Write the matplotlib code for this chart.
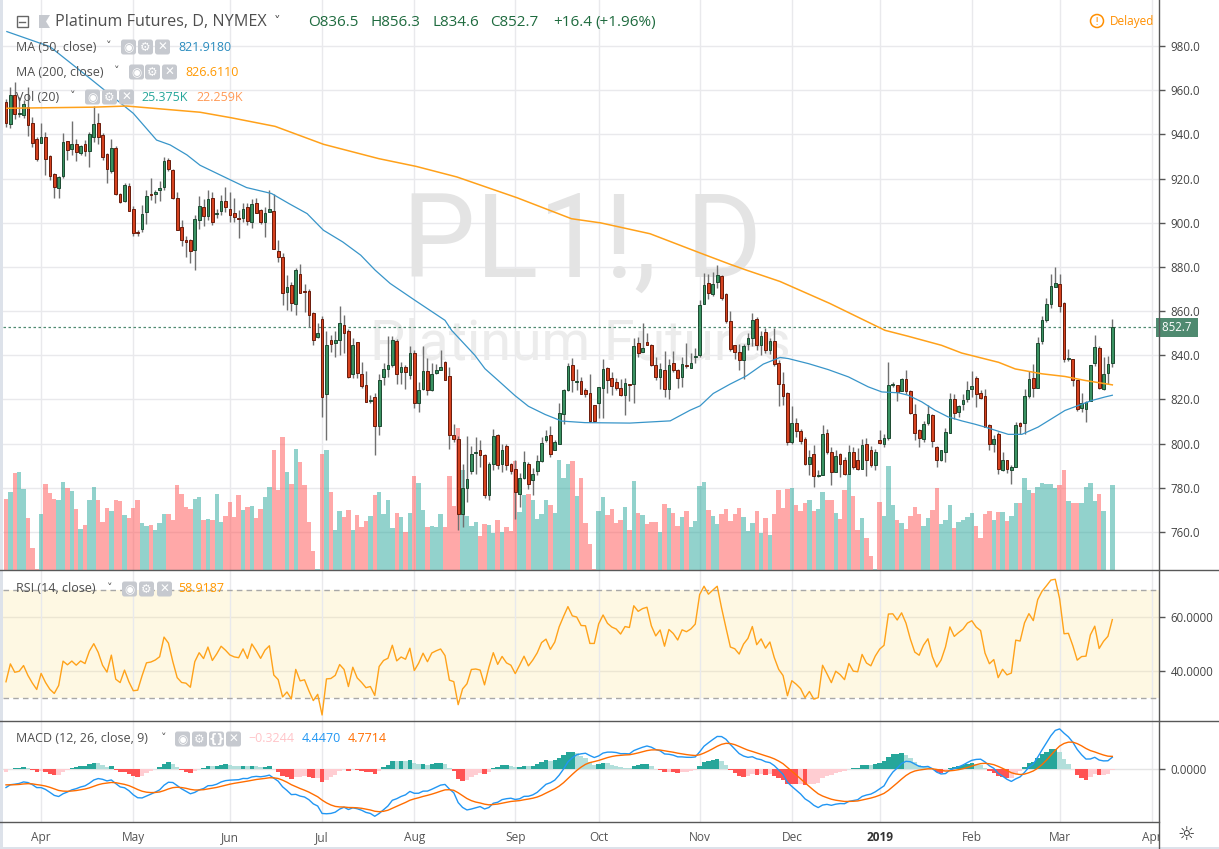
import numpy as np
import matplotlib
matplotlib.use('Agg')
import matplotlib.pyplot as plt
from matplotlib.patches import FancyBboxPatch, Rectangle, Polygon, Circle
import matplotlib.transforms as mtransforms

plt.rcParams['font.family'] = ['Open Sans', 'DejaVu Sans']

# ---------------- data ----------------
opens = [954.7, 944.5, 958.0, 949.3, 948.7, 952.5, 945.0, 938.0, 936.2, 938.6,
         930.0, 922.0, 915.5, 921.0, 937.0, 933.2, 935.5, 931.4, 935.6, 932.6,
         939.0, 945.0, 939.7, 931.0, 923.3, 934.0, 913.0, 910.0, 916.7, 906.0,
         895.9, 897.0, 905.0, 912.9, 913.2, 914.6, 916.0, 928.3, 924.0, 911.0,
         898.0, 892.3, 892.3, 887.5, 901.4, 906.9, 903.1, 911.4, 904.0, 905.4,
         909.6, 906.4, 904.6, 902.1, 901.9, 906.9, 900.4, 908.7, 905.7, 900.1,
         904.9, 905.2, 887.1, 884.3, 868.7, 871.7, 863.4, 876.7, 869.0, 868.9,
         858.9, 848.2, 856.6, 822.3, 846.8, 845.6, 846.8, 853.9, 850.9, 831.3,
         845.8, 831.3, 826.5, 819.3, 820.9, 808.0, 830.0, 834.0, 835.4, 846.3,
         832.2, 834.6, 831.0, 841.0, 818.5, 824.6, 833.0, 824.1, 832.1, 833.5,
         837.0, 830.4, 804.0, 802.2, 768.3, 780.0, 787.6, 795.6, 797.0, 794.7,
         776.9, 790.6, 803.8, 790.6, 798.8, 790.6, 788.7, 777.3, 784.6, 791.0,
         783.4, 787.5, 792.1, 801.5, 803.8, 797.3, 800.0, 813.6, 824.4, 835.7,
         827.8, 828.2, 824.2, 822.8, 817.6, 818.6, 825.0, 834.1, 829.8, 827.8,
         825.2, 822.1, 827.0, 826.9, 845.5, 841.5, 846.0, 844.6, 835.5, 830.0,
         833.4, 824.6, 836.4, 833.4, 830.0, 835.5, 834.4, 839.0, 840.3, 863.1,
         872.9, 867.6, 873.0, 875.9, 867.9, 855.3, 844.6, 841.5, 837.8, 845.0,
         848.0, 856.3, 844.6, 850.6, 842.6, 846.5, 836.4, 827.2, 822.7, 800.8,
         809.5, 805.6, 802.3, 790.7, 795.2, 785.5, 786.0, 804.6, 796.3, 787.2,
         795.2, 792.5, 786.2, 796.0, 792.5, 788.7, 800.0, 797.0, 790.2, 801.5,
         800.0, 802.7, 826.4, 826.7, 823.7, 829.4, 823.7, 813.6, 806.1, 802.0,
         809.4, 812.9, 798.5, 792.8, 796.3, 804.9, 820.4, 814.4, 817.8, 820.4,
         824.5, 829.8, 822.9, 821.4, 808.3, 800.0, 804.5, 788.0, 792.8, 788.0,
         789.5, 809.5, 809.5, 821.5, 829.8, 825.3, 846.3, 856.0, 863.2, 870.7,
         872.2, 863.6, 838.3, 838.3, 828.6, 816.1, 815.8, 819.2, 836.4, 843.3,
         824.8, 832.0, 836.5]

closes = [945.3, 957.7, 949.0, 949.7, 953.5, 944.0, 936.0, 928.7, 938.6, 929.0,
          921.0, 916.0, 920.6, 936.4, 933.0, 935.5, 932.0, 934.6, 932.6, 940.0,
          944.7, 939.0, 929.6, 924.2, 934.0, 913.0, 909.5, 917.0, 905.4, 895.3,
          895.6, 903.9, 912.0, 912.5, 913.7, 915.6, 928.0, 924.2, 911.0, 896.8,
          892.0, 891.3, 887.4, 901.7, 907.5, 903.1, 910.5, 900.4, 904.6, 909.6,
          906.9, 903.7, 902.4, 901.9, 906.4, 900.8, 908.4, 904.6, 900.1, 904.2,
          906.4, 887.9, 884.3, 868.4, 870.7, 863.7, 878.8, 868.3, 868.9, 858.0,
          846.8, 850.0, 820.9, 844.6, 844.9, 847.1, 854.8, 849.9, 830.3, 844.6,
          831.8, 826.0, 819.0, 819.8, 808.0, 829.0, 834.0, 835.8, 846.7, 831.4,
          834.6, 832.4, 841.1, 818.5, 824.4, 832.7, 824.1, 831.3, 833.1, 834.5,
          829.0, 804.0, 802.2, 768.3, 780.0, 784.0, 795.5, 795.9, 794.7, 776.9,
          790.6, 803.3, 790.2, 797.3, 790.2, 787.6, 778.1, 784.6, 791.7, 781.9,
          786.4, 792.0, 800.4, 803.3, 795.1, 800.8, 814.0, 824.4, 835.3, 829.0,
          828.2, 822.6, 822.4, 810.3, 810.3, 825.7, 834.0, 828.7, 826.3, 825.1,
          822.1, 827.4, 826.9, 844.1, 841.2, 843.5, 844.6, 835.5, 830.0, 833.8,
          824.6, 835.5, 833.2, 829.5, 836.0, 835.0, 836.7, 839.6, 862.7, 871.7,
          868.0, 872.2, 876.2, 866.1, 855.3, 842.7, 841.5, 837.8, 844.0, 847.7,
          855.9, 844.7, 848.6, 842.6, 846.5, 836.0, 826.9, 821.6, 800.8, 809.5,
          805.8, 801.1, 790.7, 794.0, 785.2, 785.9, 804.3, 796.3, 787.2, 794.3,
          791.0, 786.2, 796.0, 789.2, 788.7, 799.3, 792.5, 790.2, 796.0, 800.3,
          802.7, 826.7, 826.9, 823.4, 829.4, 823.7, 813.9, 804.9, 802.6, 809.0,
          813.2, 801.1, 792.8, 797.0, 805.3, 820.4, 814.0, 817.0, 819.6, 824.2,
          826.0, 822.6, 820.8, 807.5, 800.0, 802.3, 788.3, 792.8, 788.3, 789.2,
          808.6, 808.0, 821.4, 829.3, 825.3, 845.6, 856.0, 863.2, 871.4, 872.6,
          862.1, 838.3, 838.7, 828.9, 815.8, 818.5, 818.8, 835.6, 843.6, 825.3,
          831.6, 836.1, 852.7]

highs = [956.2, 961.2, 963.8, 957.0, 955.5, 961.5, 948.0, 939.0, 945.0, 941.0,
         930.7, 922.4, 921.0, 940.8, 937.0, 946.0, 937.7, 935.2, 937.4, 941.2,
         952.8, 949.5, 940.5, 931.4, 937.7, 934.7, 913.4, 917.9, 917.9, 907.4,
         896.8, 908.1, 914.9, 920.2, 914.9, 919.0, 929.6, 929.2, 924.2, 914.1,
         901.3, 893.8, 892.6, 903.6, 912.3, 910.5, 915.0, 914.0, 906.4, 912.5,
         916.2, 914.0, 911.0, 905.7, 909.0, 909.0, 910.5, 911.0, 906.4, 907.2,
         915.0, 913.2, 892.1, 886.4, 876.3, 873.2, 879.3, 881.5, 872.2, 870.2,
         859.7, 854.7, 857.7, 850.9, 849.3, 850.8, 862.4, 858.0, 852.1, 847.9,
         845.8, 837.0, 832.8, 822.0, 822.9, 831.3, 836.3, 848.7, 848.5, 847.5,
         836.9, 835.5, 844.0, 842.2, 827.9, 844.0, 838.9, 836.5, 835.9, 842.5,
         837.5, 834.7, 809.0, 803.3, 790.9, 803.3, 798.8, 803.0, 801.8, 795.1,
         791.7, 806.8, 804.5, 799.7, 799.7, 791.3, 792.4, 786.7, 796.5, 791.7,
         789.0, 794.7, 803.0, 806.0, 807.8, 801.5, 818.4, 824.9, 836.5, 838.9,
         833.9, 830.1, 825.4, 831.7, 817.6, 825.7, 838.2, 834.8, 832.6, 829.6,
         829.2, 829.6, 827.2, 847.7, 848.3, 854.4, 850.3, 845.0, 839.3, 836.3,
         842.0, 838.2, 842.0, 834.0, 839.3, 845.6, 841.2, 843.2, 864.9, 877.4,
         877.0, 877.9, 880.9, 876.4, 868.4, 860.1, 844.6, 845.3, 845.3, 850.3,
         858.9, 857.1, 851.1, 852.2, 848.0, 852.2, 837.8, 832.5, 823.4, 816.9,
         811.8, 806.8, 803.0, 797.0, 799.3, 788.0, 808.3, 806.8, 798.5, 797.3,
         795.8, 794.0, 799.6, 798.5, 798.2, 802.3, 802.7, 798.8, 797.5, 806.0,
         804.3, 837.0, 828.0, 826.7, 829.9, 833.2, 824.2, 818.1, 806.4, 810.3,
         817.4, 813.6, 798.8, 797.3, 807.1, 823.0, 822.4, 817.4, 822.4, 828.4,
         833.0, 830.8, 824.1, 824.8, 808.7, 803.8, 805.3, 796.2, 792.8, 790.2,
         809.8, 809.8, 824.8, 832.8, 836.1, 848.1, 857.9, 865.9, 877.0, 880.0,
         877.0, 863.9, 842.9, 838.3, 828.6, 822.9, 819.2, 835.6, 849.3, 844.4,
         839.1, 839.8, 856.3]

lows = [943.5, 943.0, 947.0, 947.7, 947.2, 939.4, 934.4, 928.0, 936.0, 921.6,
        919.4, 911.1, 911.1, 920.2, 928.4, 930.7, 928.1, 930.7, 930.2, 925.4,
        936.7, 935.6, 928.4, 917.9, 922.4, 912.6, 908.9, 909.5, 905.4, 893.8,
        893.8, 895.6, 899.5, 910.4, 908.9, 909.6, 914.9, 923.2, 910.8, 896.5,
        889.3, 884.5, 881.8, 878.8, 897.0, 898.4, 901.4, 898.9, 901.9, 903.4,
        904.9, 900.4, 900.4, 893.3, 900.4, 898.9, 897.4, 904.2, 899.6, 893.6,
        904.9, 887.9, 882.3, 862.7, 860.4, 860.1, 858.2, 868.0, 859.7, 852.9,
        844.6, 847.6, 811.9, 801.6, 841.6, 839.3, 840.0, 840.8, 829.5, 829.5,
        829.5, 825.0, 819.0, 818.5, 794.8, 803.9, 826.5, 830.2, 834.7, 827.1,
        827.1, 824.9, 829.4, 816.3, 814.3, 824.1, 821.8, 823.8, 831.3, 833.2,
        828.6, 797.7, 800.7, 760.8, 762.3, 773.6, 786.4, 786.4, 789.4, 775.4,
        774.3, 787.9, 788.7, 787.1, 787.9, 786.4, 766.0, 771.3, 784.1, 779.6,
        776.6, 786.0, 791.7, 800.7, 794.0, 797.0, 800.0, 809.0, 823.8, 823.3,
        824.1, 822.3, 820.9, 810.0, 810.0, 811.8, 811.8, 823.1, 822.1, 824.2,
        821.6, 813.0, 819.4, 818.6, 839.3, 841.5, 844.6, 835.2, 828.7, 824.6,
        820.9, 820.1, 832.2, 825.4, 825.7, 834.4, 834.4, 836.3, 839.0, 863.1,
        865.4, 866.9, 870.6, 864.9, 854.8, 842.0, 838.2, 833.2, 829.2, 842.3,
        844.3, 842.6, 840.2, 841.2, 840.5, 835.2, 817.1, 817.4, 799.3, 800.0,
        803.0, 800.0, 790.2, 785.7, 780.4, 785.0, 786.0, 795.5, 781.2, 787.2,
        785.0, 785.7, 786.2, 788.3, 788.0, 788.3, 785.2, 789.5, 788.0, 800.0,
        798.5, 801.8, 825.7, 819.3, 823.7, 822.6, 813.6, 801.8, 798.5, 800.8,
        808.3, 798.5, 789.2, 792.2, 791.7, 804.6, 811.3, 812.1, 815.1, 819.0,
        821.0, 816.5, 820.3, 807.5, 797.0, 796.2, 786.2, 787.7, 786.8, 781.5,
        789.5, 804.2, 804.5, 820.8, 821.1, 825.3, 845.1, 854.9, 861.4, 870.7,
        859.4, 836.8, 837.6, 826.3, 814.6, 814.3, 809.8, 819.2, 835.3, 824.8,
        824.4, 827.1, 834.6]

volumes_k = [21.2, 23.3, 29.0, 29.3, 24.2, 15.5, 6.5, 0.3, 16.7, 25.7,
             23.0, 21.2, 20.9, 26.3, 24.5, 23.6, 18.2, 12.2, 13.4, 20.9,
             24.8, 20.9, 14.3, 18.5, 17.6, 20.9, 20.6, 16.4, 15.5, 18.5,
             20.9, 14.0, 13.1, 13.4, 11.9, 14.0, 16.7, 16.7, 14.9, 25.4,
             22.7, 18.8, 18.2, 21.2, 21.8, 14.9, 15.2, 14.9, 22.7, 14.3,
             16.1, 20.3, 15.8, 22.4, 17.9, 18.8, 19.1, 15.5, 18.2, 21.8,
             24.8, 35.9, 23.9, 39.8, 29.3, 25.7, 36.2, 32.3, 25.4, 14.3,
             5.6, 0.3, 34.7, 35.9, 23.3, 11.9, 17.6, 15.8, 17.9, 11.9,
             16.4, 12.8, 14.6, 16.1, 22.4, 23.3, 16.7, 20.9, 12.5, 17.0,
             15.8, 11.3, 17.0, 28.1, 26.0, 17.9, 12.8, 13.1, 12.8, 16.7,
             12.8, 28.1, 19.1, 42.5, 29.9, 16.1, 13.1, 14.3, 10.1, 13.7,
             13.4, 11.0, 14.9, 11.3, 12.8, 11.6, 32.6, 17.3, 22.4, 22.7,
             20.9, 15.2, 16.7, 20.9, 19.4, 17.0, 32.9, 27.5, 31.7, 32.6,
             22.1, 27.5, 14.0, 7.7, 0.3, 17.6, 21.8, 16.4, 18.2, 14.0,
             14.9, 18.8, 11.9, 26.6, 17.0, 16.4, 13.7, 14.3, 14.3, 11.3,
             19.7, 18.5, 17.0, 13.1, 15.8, 17.6, 12.8, 14.6, 25.1, 26.3,
             17.9, 16.1, 13.7, 16.7, 18.2, 14.6, 16.7, 18.5, 15.8, 11.6,
             14.0, 17.6, 11.0, 15.5, 10.4, 16.7, 23.9, 18.5, 24.2, 24.5,
             19.4, 17.6, 20.0, 20.9, 17.6, 18.2, 23.3, 20.9, 20.9, 17.0,
             15.2, 23.9, 28.7, 22.1, 11.9, 15.5, 9.5, 4.1, 0.3, 20.3,
             16.1, 31.1, 19.4, 14.9, 14.0, 12.2, 16.1, 18.8, 16.7, 13.1,
             15.5, 17.9, 24.5, 13.7, 14.9, 19.4, 12.5, 14.3, 14.9, 15.8,
             17.0, 13.1, 9.5, 16.7, 17.6, 14.9, 17.3, 17.3, 14.6, 16.1,
             20.0, 20.0, 27.5, 23.9, 23.0, 24.8, 26.0, 25.7, 25.7, 24.5,
             25.4, 29.9, 20.6, 20.0, 20.0, 20.0, 24.8, 26.0, 20.6, 22.7,
             17.6, 0.0, 25.4]

# moving averages (bar index, value)
ma50_idx = [0.2, 10.0, 18.7, 29.0, 34.3, 37.4, 41.2, 44.2, 51.3, 54.8, 60.5, 64.5,
            68.6, 72.3, 76.7, 80.8, 84.1, 87.5, 93.2, 100.0, 101.5, 106.8, 109.1,
            112.1, 115.9, 119.0, 122.8, 126.6, 131.9, 142.1, 151.3, 155.8, 158.1,
            161.1, 164.9, 168.7, 172.5, 176.3, 178.2, 182.8, 187.3, 191.9, 196.4,
            199.5, 203.3, 205.5, 208.6, 211.6, 214.6, 217.7, 220.7, 223.0, 228.3,
            231.4, 235.1, 238.2, 241.2, 244.3, 247.3, 250.3, 252.0]
ma50_val = [986.5, 979.7, 966.0, 949.5, 937.4, 935.2, 930.7, 926.0, 919.2, 915.9,
            913.2, 908.6, 904.1, 896.6, 891.3, 885.3, 878.5, 872.5, 864.8, 855.8,
            851.3, 840.0, 833.9, 828.6, 821.8, 816.9, 813.2, 810.2, 809.5, 809.3,
            810.3, 815.1, 817.1, 822.7, 826.9, 830.7, 836.0, 839.0, 838.5, 836.2,
            833.5, 830.2, 825.7, 823.4, 823.0, 821.9, 818.9, 815.1, 812.1, 810.3,
            808.8, 807.5, 804.2, 804.2, 807.5, 811.3, 815.0, 817.3, 819.5, 821.1,
            821.9]
ma200_idx = [0.2, 20.0, 27.5, 44.2, 51.3, 61.3, 72.3, 84.9, 93.4, 102.7, 116.4,
             128.8, 135.5, 146.7, 158.1, 164.9, 168.7, 176.3, 187.6, 200.2, 205.5,
             213.1, 217.7, 220.7, 226.1, 229.9, 236.0, 241.2, 245.8, 252.0]
ma200_val = [951.8, 952.3, 952.8, 950.0, 947.5, 943.6, 935.5, 929.0, 925.5, 920.7,
             911.3, 901.8, 899.9, 895.0, 886.3, 881.2, 878.5, 873.4, 863.5, 851.3,
             848.6, 844.5, 841.0, 839.5, 836.8, 833.8, 831.6, 830.4, 828.6, 826.6]

# indicator state just before the visible window (estimated from the panes)
rsi_seed = (3.0, 5.3)             # avg gain, avg loss
macd_seed = (951.0, 958.0, -6.0)  # ema12, ema26, signal

month_pos = [8, 29, 51, 72, 93, 116, 135, 158, 179, 199, 220, 240, 261]
month_lbl = ['Apr', 'May', 'Jun', 'Jul', 'Aug', 'Sep', 'Oct', 'Nov', 'Dec',
             '2019', 'Feb', 'Mar', 'Apr']
price_ticks = [760, 780, 800, 820, 840, 860, 880, 900, 920, 940, 960, 980]

# ---------------- indicators ----------------
o = np.array(opens); c = np.array(closes)
h = np.array(highs); l = np.array(lows)
v = np.array(volumes_k)
n = len(c)
x = np.arange(n)

ag, al = rsi_seed
rsi = np.empty(n)
rsi[0] = 100 - 100 / (1 + ag / al)
for i in range(1, n):
    d = c[i] - c[i - 1]
    ag = (ag * 13 + max(d, 0)) / 14
    al = (al * 13 + max(-d, 0)) / 14
    rsi[i] = 100 - 100 / (1 + ag / al)

e12, e26, sg = macd_seed
macd = np.empty(n); sig = np.empty(n)
macd[0] = e12 - e26; sig[0] = sg
for i in range(1, n):
    e12 += (c[i] - e12) * 2 / 13
    e26 += (c[i] - e26) * 2 / 27
    m = e12 - e26
    sg += (m - sg) * 2 / 10
    macd[i] = m; sig[i] = sg
hist = macd - sig

hcol = []
for i in range(n):
    prev = hist[i - 1] if i > 0 else hist[i]
    if hist[i] >= 0:
        hcol.append('#26a69a' if hist[i] > prev else '#b2dfdb')
    else:
        hcol.append('#ff5252' if hist[i] < prev else '#ffcdd2')

# ---------------- figure ----------------
W, H = 1219, 849
fig = plt.figure(figsize=(W / 100, H / 100), dpi=100, facecolor='white')

def rect(x0, y0, x1, y1):
    return [x0 / W, 1 - y1 / H, (x1 - x0) / W, (y1 - y0) / H]

XL = (-0.68, 262.7)
PX0, PX1 = 3, 1159.3
main_r = rect(PX0, 0, PX1, 570)
rsi_r = rect(PX0, 570, PX1, 721)
macd_r = rect(PX0, 721, PX1, 821.7)
GRID = '#e9e9ec'

def clean(ax):
    for s in ax.spines.values():
        s.set_visible(False)
    ax.set_xlim(*XL)

# grid / watermark layer
ax_g = fig.add_axes(main_r)
clean(ax_g)
ax_g.set_ylim(742.8, 1000.8)
ax_g.set_xticks([]); ax_g.set_yticks([])
for p in price_ticks:
    ax_g.axhline(p, color=GRID, lw=1, zorder=0)
for mp in month_pos:
    ax_g.axvline(mp, color=GRID, lw=1, zorder=0)
ax_g.text((582 - PX0) / (PX1 - PX0), 1 - 245 / 570, 'PL1!, D', transform=ax_g.transAxes,
          ha='center', va='center', fontsize=84, color='#e4e4e4',
          family=['Roboto', 'DejaVu Sans'])
ax_g.text((580 - PX0) / (PX1 - PX0), 1 - 344 / 570, 'Platinum Futures', transform=ax_g.transAxes,
          ha='center', va='center', fontsize=40, color='#ececec',
          family=['Roboto', 'DejaVu Sans'])

# volume layer
ax_v = fig.add_axes(main_r)
clean(ax_v)
ax_v.patch.set_visible(False)
ax_v.set_ylim(0, 170.8)
ax_v.set_xticks([]); ax_v.set_yticks([])
up = c >= o
vcol = np.where(up, '#26a69a', '#ff5252')
ax_v.bar(x, v, width=1.0, color=vcol, alpha=0.5, linewidth=0)

# price layer
ax_p = fig.add_axes(main_r)
clean(ax_p)
ax_p.patch.set_visible(False)
ax_p.set_ylim(742.8, 1000.8)
ax_p.set_xticks([])
ax_p.vlines(x, np.minimum(l, np.minimum(o, c)), np.maximum(h, np.maximum(o, c)),
            color='#707070', lw=1, zorder=2)
body = c - o
body = np.where(np.abs(body) < 0.5, np.where(body >= 0, 0.5, -0.5), body)
ax_p.bar(x[up], body[up], bottom=o[up], width=0.62, color='#3a9262',
         edgecolor='#1d4a31', linewidth=0.7, zorder=3)
ax_p.bar(x[~up], body[~up], bottom=o[~up], width=0.62, color='#d5421f',
         edgecolor='#6a1b0b', linewidth=0.7, zorder=3)
ax_p.plot(ma50_idx, ma50_val, color='#3895c9', lw=0.9, zorder=4)
ax_p.plot(ma200_idx, ma200_val, color='#ffa11a', lw=1.1, zorder=4)
ax_p.axhline(c[-1], color='#4f8a70', lw=0.9, ls=(0, (2, 2)), zorder=1)
ax_p.yaxis.tick_right()
ax_p.set_yticks(price_ticks)
ax_p.set_yticklabels(['%.1f' % p for p in price_ticks])
ax_p.tick_params(axis='y', length=4, width=1, color='#555555', labelsize=8.3,
                 labelcolor='#444444', pad=4)
ax_p.text(1.0, c[-1], ' %.1f ' % c[-1],
          transform=mtransforms.blended_transform_factory(ax_p.transAxes, ax_p.transData),
          ha='left', va='center', fontsize=8.3, color='white',
          bbox=dict(boxstyle='square,pad=0.25', fc='#4f8a70', ec='none'), zorder=6)

# RSI pane
ax_r = fig.add_axes(rsi_r)
clean(ax_r)
ax_r.set_ylim(21.7, 77.3)
ax_r.axhspan(30, 70, color='#fef8e3', lw=0, zorder=0)
for gy in (40, 60):
    ax_r.axhline(gy, color='#ece6d3', lw=1, zorder=1)
for mp in month_pos:
    ax_r.axvline(mp, color=GRID, lw=1, zorder=1)
for gy in (30, 70):
    ax_r.axhline(gy, color='#a8a8a8', lw=1, ls=(0, (4, 3)), zorder=2)
ax_r.plot(x, rsi, color='#ffa21a', lw=1, zorder=3)
ax_r.set_xticks([])
ax_r.yaxis.tick_right()
ax_r.set_yticks([40, 60])
ax_r.set_yticklabels(['40.0000', '60.0000'])
ax_r.tick_params(axis='y', length=4, width=1, color='#555555', labelsize=8.3,
                 labelcolor='#444444', pad=4)

# MACD pane
ax_m = fig.add_axes(macd_r)
clean(ax_m)
ax_m.set_ylim(-19.9, 18.1)
for mp in month_pos:
    ax_m.axvline(mp, color=GRID, lw=1, zorder=0)
ax_m.axhline(0, color='#e4e4e4', lw=1, zorder=0)
ax_m.bar(x, hist, width=1.0, color=hcol, linewidth=0, zorder=1)
ax_m.plot(x, macd, color='#2196f3', lw=1, zorder=2)
ax_m.plot(x, sig, color='#ff6d00', lw=1, zorder=2)
ax_m.yaxis.tick_right()
ax_m.set_yticks([0])
ax_m.set_yticklabels(['0.0000'])
ax_m.tick_params(axis='y', length=4, width=1, color='#555555', labelsize=8.3,
                 labelcolor='#444444', pad=4)
ax_m.set_xticks(month_pos)
ax_m.set_xticklabels(month_lbl)
ax_m.tick_params(axis='x', length=0, pad=7, labelsize=8.6, labelcolor='#555555')
clipbox = mtransforms.Bbox([[0, 0], [PX1, H]])
for t in ax_m.get_xticklabels():
    t.set_clip_box(clipbox)
    t.set_clip_on(True)
    if t.get_text() == '2019':
        t.set_fontweight('bold')
        t.set_color('#333333')

# overlay (pixel coordinates)
ax_o = fig.add_axes([0, 0, 1, 1])
ax_o.set_xlim(0, W); ax_o.set_ylim(H, 0)
ax_o.axis('off')
ax_o.patch.set_visible(False)

SEP = '#585858'
ax_o.plot([0, W], [570, 570], color=SEP, lw=1)
ax_o.plot([0, W], [721, 721], color=SEP, lw=1)
ax_o.plot([0, PX1], [821.7, 821.7], color=SEP, lw=1)
ax_o.plot([PX1, PX1], [0, 849], color=SEP, lw=1)
ax_o.add_patch(Rectangle((0, 0), 3, H, color='#dde2ea', lw=0))
ax_o.add_patch(Rectangle((0, 846.5), W, 3, color='#dde2ea', lw=0))

def icon(x0, yc, glyph, size=15):
    ax_o.add_patch(FancyBboxPatch((x0 + 1.5, yc - size / 2 + 1.5), size - 3, size - 3,
                                  boxstyle='round,pad=1.5,rounding_size=2.5',
                                  fc='#c6c9cf', ec='none'))
    ax_o.text(x0 + size / 2, yc + 0.5, glyph, ha='center', va='center', color='white',
              fontsize=8.5, family='DejaVu Sans', fontweight='bold')

TXT = '#4f4f4f'
# header
ax_o.add_patch(Rectangle((16.5, 16), 11, 11, fill=False, ec='#666666', lw=1))
ax_o.plot([19, 25], [21.5, 21.5], color='#666666', lw=1)
ax_o.add_patch(Polygon([(39, 15), (50, 15), (46, 21.5), (50, 28), (39, 28)],
                       closed=True, fc='#c6c9cf', ec='none'))
ax_o.text(55, 22, 'Platinum Futures, D, NYMEX', va='center', ha='left',
          fontsize=11.65, color=TXT)
ax_o.text(274, 21, '˅', va='center', ha='left', fontsize=9.5, color=TXT,
          family='DejaVu Sans')
GREEN = '#1f6b3f'
for xx, s in [(308, 'O836.5'), (370, 'H856.3'), (433, 'L834.6'), (490, 'C852.7'),
              (553, '+16.4'), (595, '(+1.96%)')]:
    ax_o.text(xx, 22, s, va='center', ha='left', fontsize=11.0, color=GREEN)

def legend_row(y, label, chev_x, icons_x, glyphs, vals):
    ax_o.text(16, y, label, va='center', ha='left', fontsize=9, color=TXT)
    ax_o.text(chev_x, y - 1, '˅', va='center', ha='left', fontsize=8,
              color=TXT, family='DejaVu Sans')
    for ix, g in zip(icons_x, glyphs):
        icon(ix, y, g)
    for vx, s, col in vals:
        ax_o.text(vx, y, s, va='center', ha='left', fontsize=9, color=col)

legend_row(47, 'MA (50, close)', 106, [121, 138, 155], ['◉', '⚙', '✕'],
           [(178, '821.9180', '#2b8cbe')])
legend_row(72, 'MA (200, close)', 114, [129, 145, 162], ['◉', '⚙', '✕'],
           [(185, '826.6110', '#ff9800')])
legend_row(97, 'Vol (20)', 70, [85, 102, 119], ['◉', '⚙', '✕'],
           [(141, '25.375K', '#26a69a'), (196, '22.259K', '#ff9a57')])
legend_row(589, 'RSI (14, close)', 107, [122, 139, 157], ['◉', '⚙', '✕'],
           [(178, '58.9187', '#ff9800')])
legend_row(739, 'MACD (12, 26, close, 9)', 161, [175, 192, 209, 226],
           ['◉', '⚙', '{}', '✕'],
           [(248, '\u22120.3244', '#ffc4c8'), (302, '4.4470', '#2196f3'),
            (348, '4.7714', '#ff6d00')])

# delayed badge
ax_o.add_patch(Circle((1097, 21), 6.5, fill=False, ec='#ff8f00', lw=1.1))
ax_o.text(1097, 21.5, '!', ha='center', va='center', fontsize=7.5, color='#ff8f00',
          family='DejaVu Sans')
ax_o.text(1110, 21.5, 'Delayed', ha='left', va='center', fontsize=8.5, color='#ff8f00')

# settings icon
ax_o.text(1186, 834, '☼', ha='center', va='center', fontsize=14, color='#333333',
          family='DejaVu Sans')

fig.savefig('out.png', dpi=100, facecolor='white')
